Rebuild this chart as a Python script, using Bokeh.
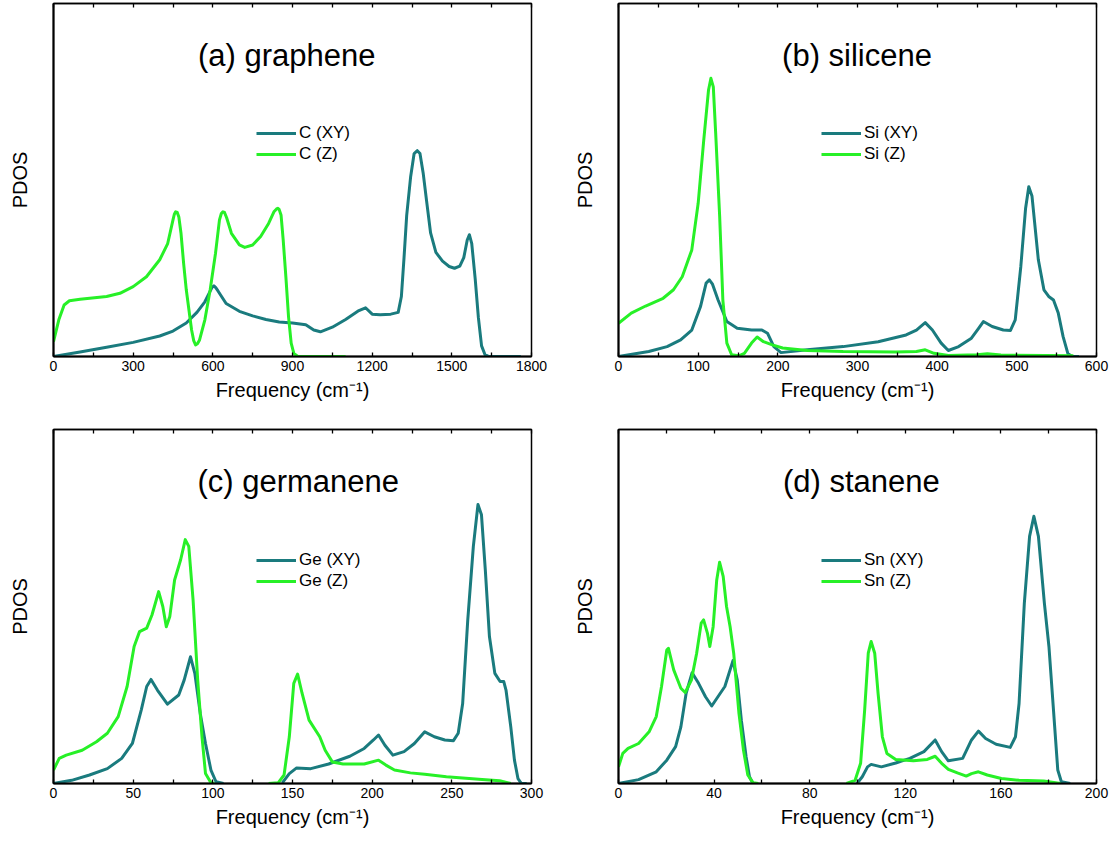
import numpy as np
from bokeh.plotting import figure
from bokeh.layouts import gridplot
from bokeh.models import (Range1d, FixedTicker, LinearAxis, Legend, LegendItem,
                          Label, CustomJSTickFormatter)
from bokeh.embed import file_html
from bokeh.resources import INLINE

NAN = float("nan")

# ---------------- data (frequency in cm^-1, PDOS in arbitrary units) ----------------
# (a) graphene
c_xy_f = [0, 100, 200, 300, 400, 450, 500, 540, 570, 590, 597, 604, 611, 620, 650, 700, 750, 800, 850, 900,
          950, 980, 1005, 1050, 1100, 1150, 1175, 1200, 1230, 1270, 1298, 1310, 1320, 1330, 1345, 1358,
          1370, 1380, 1392, 1405, 1420, 1440, 1465, 1490, 1510, 1530, 1545, 1558, 1566, 1575, 1588,
          1600, 1612, 1625, 1640, 1760]
c_xy_v = [0, 1.3, 2.6, 4.0, 5.8, 7.2, 9.5, 12.5, 15.5, 18.5, 19.6, 20.0, 19.5, 18.5, 15.0, 12.8, 11.5, 10.5,
          9.8, 9.5, 9.0, 7.5, 7.0, 8.3, 10.5, 13.0, 13.8, 12.0, 11.8, 12.0, 12.5, 17, 28, 40, 51, 57.5,
          58.3, 57.5, 52, 44, 35, 29.5, 27, 25.5, 25, 25.6, 28, 33, 34.5, 32, 22, 11, 3, 0.5, 0, 0]
c_z_f = [0, 20, 40, 60, 100, 200, 250, 300, 350, 400, 430, 450, 455, 460, 466, 472, 480, 490, 500, 520,
         528, 535, 542, 550, 570, 590, 610, 625, 632, 638, 644, 652, 670, 700, 720, 750, 780, 810, 830,
         840, 845, 850, 857, 865, 875, 885, 895, 905, 920, 1100]
c_z_v = [4.2, 10.4, 14.6, 15.8, 16.2, 17.0, 17.9, 19.8, 22.6, 27.4, 32, 38.7, 40.3, 41, 40.8, 39.5, 35,
         26.4, 18.9, 7.5, 4.5, 3.3, 3.6, 4.7, 10.4, 18.9, 29.2, 38.7, 40.5, 41, 40.8, 39.3, 34.9, 31.6,
         30.9, 31.6, 34, 37.7, 41, 41.8, 42, 41.6, 40, 33, 22.6, 11.3, 3.8, 0.9, 0, 0]

# (b) silicene
si_xy_f = [0, 38, 61, 78, 92, 103, 110, 114, 118, 125, 136, 149, 167, 180, 187, 195, 204, 237, 282, 326,
           361, 374, 385, 394, 405, 414, 427, 443, 452, 458, 469, 483, 492, 498, 505, 511, 515, 519, 527,
           534, 540, 546, 552, 558, 564, 569, 578]
si_xy_v = [0, 1.4, 2.8, 4.7, 7.5, 14.2, 20.8, 21.7, 20.5, 16, 9.9, 8.0, 7.5, 7.5, 6.6, 2.8, 1.1, 1.9, 2.8,
           4.2, 6.1, 7.5, 9.6, 7.5, 3.8, 1.7, 2.8, 5.2, 8.0, 9.9, 8.5, 7.5, 7.4, 10.4, 25.5, 42, 48.1,
           45.5, 27.4, 18.9, 17, 16, 12.3, 5.7, 0.9, 0, 0]
si_z_f = [0, 16, 34, 56, 69, 80, 92, 100, 107, 113, 116, 119, 122, 127, 131, 136, 142, 151, 158, 167,
          174, 182, 193, 206, 237, 282, 348, 374, 385, 396, 414, 450, 463, 480, 571]
si_z_v = [9.4, 12.3, 14.3, 16.5, 18.9, 22.6, 30.2, 43.4, 61.3, 75.5, 78.8, 76.4, 63.2, 39.6, 16, 3.8, 0.5,
          0.2, 0.9, 3.8, 5.5, 4.2, 3.3, 2.4, 1.7, 1.4, 1.3, 1.4, 1.9, 0.9, 0.3, 0.5, 0.8, 0.4, 0.2]

# (c) germanene
ge_xy_f = [0, 11.4, 22.6, 33.8, 42.8, 49.5, 55.1, 58.5, 61.2, 65.2, 71.5, 78.6, 82, 86, 88.7, 92.1, 95.4,
           98.8, 102, 106.7, NAN,
           143.6, 148, 152.6, 161.5, 172.7, 186, 195, 200.8, 204, 208, 213, 220, 226.5, 233, 239, 245.6,
           251, 254, 256.8, 260, 263.5, 266.4, 268.6, 271, 273.6, 277, 280.3, 282.6, 284, 287, 289.3,
           291.5, 293.7, 297]
ge_xy_v = [0, 0.9, 2.4, 4.2, 7.1, 11.3, 20.8, 27.4, 29.4, 26.4, 22.4, 25, 29.2, 35.8, 31.1, 19.8, 11.3,
           3.8, 0.5, 0, NAN,
           0.2, 2.8, 4.4, 4.2, 5.5, 7.7, 9.9, 12.3, 13.7, 10.8, 8.0, 9.0, 11.3, 14.6, 13.2, 12.3, 12.1,
           14.2, 22.6, 46.2, 67, 78.8, 75.9, 60.4, 41.5, 31.1, 28.8, 28.8, 26.4, 16, 6.6, 1.4, 0, 0]
ge_z_f = [0, 3.6, 8, 18, 27, 33.8, 40.6, 46.2, 50.6, 54, 58.5, 61.8, 66, 68.6, 70.8, 73, 76, 79.8, 82.7,
          84.9, 87.6, 90.5, 93.2, 95.4, 98.8, 101, NAN,
          135, 141, 144.7, 148, 150.8, 153.2, 156, 160.4, 167.1, 170.5, 175, 181.7, 195, 204, 208.6, 214,
          224, 233, 246.6, 269, 280, 287]
ge_z_v = [3.8, 7.1, 8.0, 9.4, 11.8, 14.2, 18.9, 27.4, 38.7, 42.9, 43.9, 47.6, 54.2, 50, 44.3, 47.2, 57.5,
          63.2, 68.9, 67, 51.9, 29.2, 13.2, 2.8, 0.2, 0, NAN,
          0, 0.2, 2.4, 13.2, 28.3, 30.9, 25.5, 17.9, 13.2, 9.4, 6.1, 5.5, 5.5, 6.6, 5.2, 3.8, 3.0, 2.6,
          1.9, 1.1, 0.8, 0]

# (d) stanene
sn_xy_f = [0, 8.4, 15.8, 20.2, 23.9, 26.1, 28.3, 30.8, 33.5, 36.4, 39, 41.6, 44.5, 47.9, 49.7, 51.4, 53.4,
           54.8, 56.3, NAN,
           99.8, 102, 104.2, 105.7, 110, 116, 121.9, 127.8, 132.5, 135.2, 138, 144, 147.7, 150.6, 153.6,
           158, 163.9, 166.1, 167.6, 169.8, 172, 173.8, 175.7, 178.2, 180.1, 182.1, 183.8, 185.3, 189]
sn_xy_v = [0, 1.1, 3.3, 6.6, 10.4, 16, 25.5, 31.3, 28.3, 24.5, 21.9, 24.5, 27.4, 34.7, 29.2, 17.9, 7.5,
           1.9, 0, NAN,
           0, 1.9, 4.7, 5.4, 4.7, 5.8, 7.1, 9.0, 12.3, 9.0, 6.4, 7.1, 12.3, 14.8, 12.7, 11.1, 10.2, 13.2,
           22.6, 50.9, 69.8, 75.5, 69.8, 50.9, 38.7, 19.8, 3.8, 0.5, 0]
sn_z_f = [0, 1.8, 4, 8.4, 12.8, 15.8, 18, 20.2, 20.9, 23.1, 26.1, 27.9, 30.5, 32.7, 34.6, 35.6, 37.2, 38.2,
          39.6, 41.1, 42.3, 43.8, 45.2, 46.7, 48.2, 50.4, 52.3, 54.1, 56.3, 58.5, NAN,
          95.4, 99, 101.3, 103, 104.5, 105.7, 107.2, 108.6, 110.4, 112.3, 116, 123.4, 129.2, 132.5, 135.2,
          138, 141.8, 145.5, 147.7, 150.6, 154.3, 160.2, 167.6, 177.9, 185]
sn_z_v = [4.7, 8.5, 9.9, 11.3, 14.6, 18.9, 27.4, 37.7, 38.2, 32.1, 26.9, 25.7, 29.2, 36.8, 45.3, 46.2, 42.5,
          38.7, 44.3, 57.5, 62.5, 58.5, 50, 44.3, 36.8, 19.8, 9.4, 2.4, 0.2, 0, NAN,
          0, 0.9, 5.7, 20.8, 36.8, 40.1, 36.8, 25.5, 13.2, 8.5, 6.8, 6.4, 6.8, 7.7, 5.7, 4.0, 3.0, 2.1,
          2.8, 3.3, 2.4, 1.4, 0.9, 0.7, 0]

titles = ["(a) graphene", "(b) silicene", "(c) germanene", "(d) stanene"]
elements = ["C", "Si", "Ge", "Sn"]
x_max = [1800, 600, 300, 200]
x_major = [300, 100, 50, 40]

# ---------------- style ----------------
FONT = "Liberation Sans"
TEAL = "#1a7b7e"
GREEN = "#27f027"
LW = 3


def make_panel(i, xy_f, xy_v, z_f, z_v, width, height, bl, br, bt, bb, frame_h, title_frac, leg_top):
    xm = x_max[i]
    step = x_major[i]
    majors = list(range(0, xm + 1, step))
    minors = [m + step / 2 for m in majors[:-1]]
    p = figure(width=width, height=height, x_range=Range1d(0, xm), y_range=Range1d(0, 100),
               output_backend="svg", toolbar_location=None,
               min_border_left=bl, min_border_right=br, min_border_top=bt, min_border_bottom=bb)
    p.xgrid.visible = False
    p.ygrid.visible = False
    p.outline_line_color = "black"
    p.outline_line_width = 1.5
    p.outline_line_alpha = 1.0

    xa = p.xaxis[0]
    xa.ticker = FixedTicker(ticks=majors, minor_ticks=minors)
    xa.major_tick_in = 4
    xa.major_tick_out = 0
    xa.minor_tick_in = 4
    xa.minor_tick_out = 0
    xa.axis_line_width = 2
    xa.major_tick_line_width = 1.3
    xa.minor_tick_line_width = 1.3
    xa.major_label_text_font = FONT
    xa.major_label_text_font_size = "14px"
    xa.major_label_text_color = "black"
    xa.major_label_standoff = 4
    xa.axis_label = "Frequency (cm\u207b\u00b9)"
    xa.axis_label_text_font = FONT
    xa.axis_label_text_font_size = "20px"
    xa.axis_label_text_font_style = "normal"
    xa.axis_label_text_color = "black"
    xa.axis_label_standoff = 5

    ya = p.yaxis[0]
    ya.ticker = FixedTicker(ticks=[])
    ya.major_tick_in = 0
    ya.major_tick_out = 0
    ya.minor_tick_in = 0
    ya.minor_tick_out = 0
    ya.major_label_standoff = 0
    ya.axis_line_width = 2
    ya.axis_label = "PDOS"
    ya.axis_label_text_font = FONT
    ya.axis_label_text_font_size = "20px"
    ya.axis_label_text_font_style = "normal"
    ya.axis_label_text_color = "black"
    ya.axis_label_standoff = 23

    top = LinearAxis(ticker=FixedTicker(ticks=majors, minor_ticks=minors),
                     formatter=CustomJSTickFormatter(code="return ''"),
                     major_tick_in=4, major_tick_out=0, minor_tick_in=4, minor_tick_out=0,
                     major_tick_line_width=1.3, minor_tick_line_width=1.3,
                     major_label_standoff=0, axis_line_width=1.5)
    p.add_layout(top, "above")

    r1 = p.line(np.array(xy_f, dtype=float), np.array(xy_v, dtype=float),
                line_color=TEAL, line_width=LW, line_join="round")
    r2 = p.line(np.array(z_f, dtype=float), np.array(z_v, dtype=float),
                line_color=GREEN, line_width=LW, line_join="round")

    el = elements[i]
    legend = Legend(items=[LegendItem(label=f"{el} (XY)", renderers=[r1]),
                           LegendItem(label=f"{el} (Z)", renderers=[r2])],
                    location=(203, frame_h - leg_top - 41),
                    glyph_width=40, glyph_height=20, label_height=20, label_standoff=3,
                    spacing=1, padding=0, margin=0,
                    border_line_alpha=0, background_fill_alpha=0,
                    label_text_font=FONT, label_text_font_size="17px", label_text_color="black")
    p.add_layout(legend)

    p.add_layout(Label(x=title_frac * xm, y=85.3, text=titles[i], text_align="center",
                       text_baseline="middle", text_font=FONT, text_font_size="31px",
                       text_color="black"))
    return p


TOP_FH = 353
BOT_FH = 354
TOP_H = 3 + TOP_FH + 63
BOT_H = 10 + BOT_FH + 55
# left column: 0..570 (frame 53..531); right column: 570..1110 (frame 618..1096)
pa = make_panel(0, c_xy_f, c_xy_v, c_z_f, c_z_v, 570, TOP_H, 53, 39, 3, 63, TOP_FH, 0.488, 120.3)
pb = make_panel(1, si_xy_f, si_xy_v, si_z_f, si_z_v, 540, TOP_H, 48, 14, 3, 63, TOP_FH, 0.499, 120.3)
pc = make_panel(2, ge_xy_f, ge_xy_v, ge_z_f, ge_z_v, 570, BOT_H, 53, 39, 10, 55, BOT_FH, 0.512, 121)
pd = make_panel(3, sn_xy_f, sn_xy_v, sn_z_f, sn_z_v, 540, BOT_H, 48, 14, 10, 55, BOT_FH, 0.508, 121)

grid = gridplot([[pa, pb], [pc, pd]], toolbar_location=None)

with open("out.html", "w") as fh:
    fh.write(file_html(grid, INLINE))
